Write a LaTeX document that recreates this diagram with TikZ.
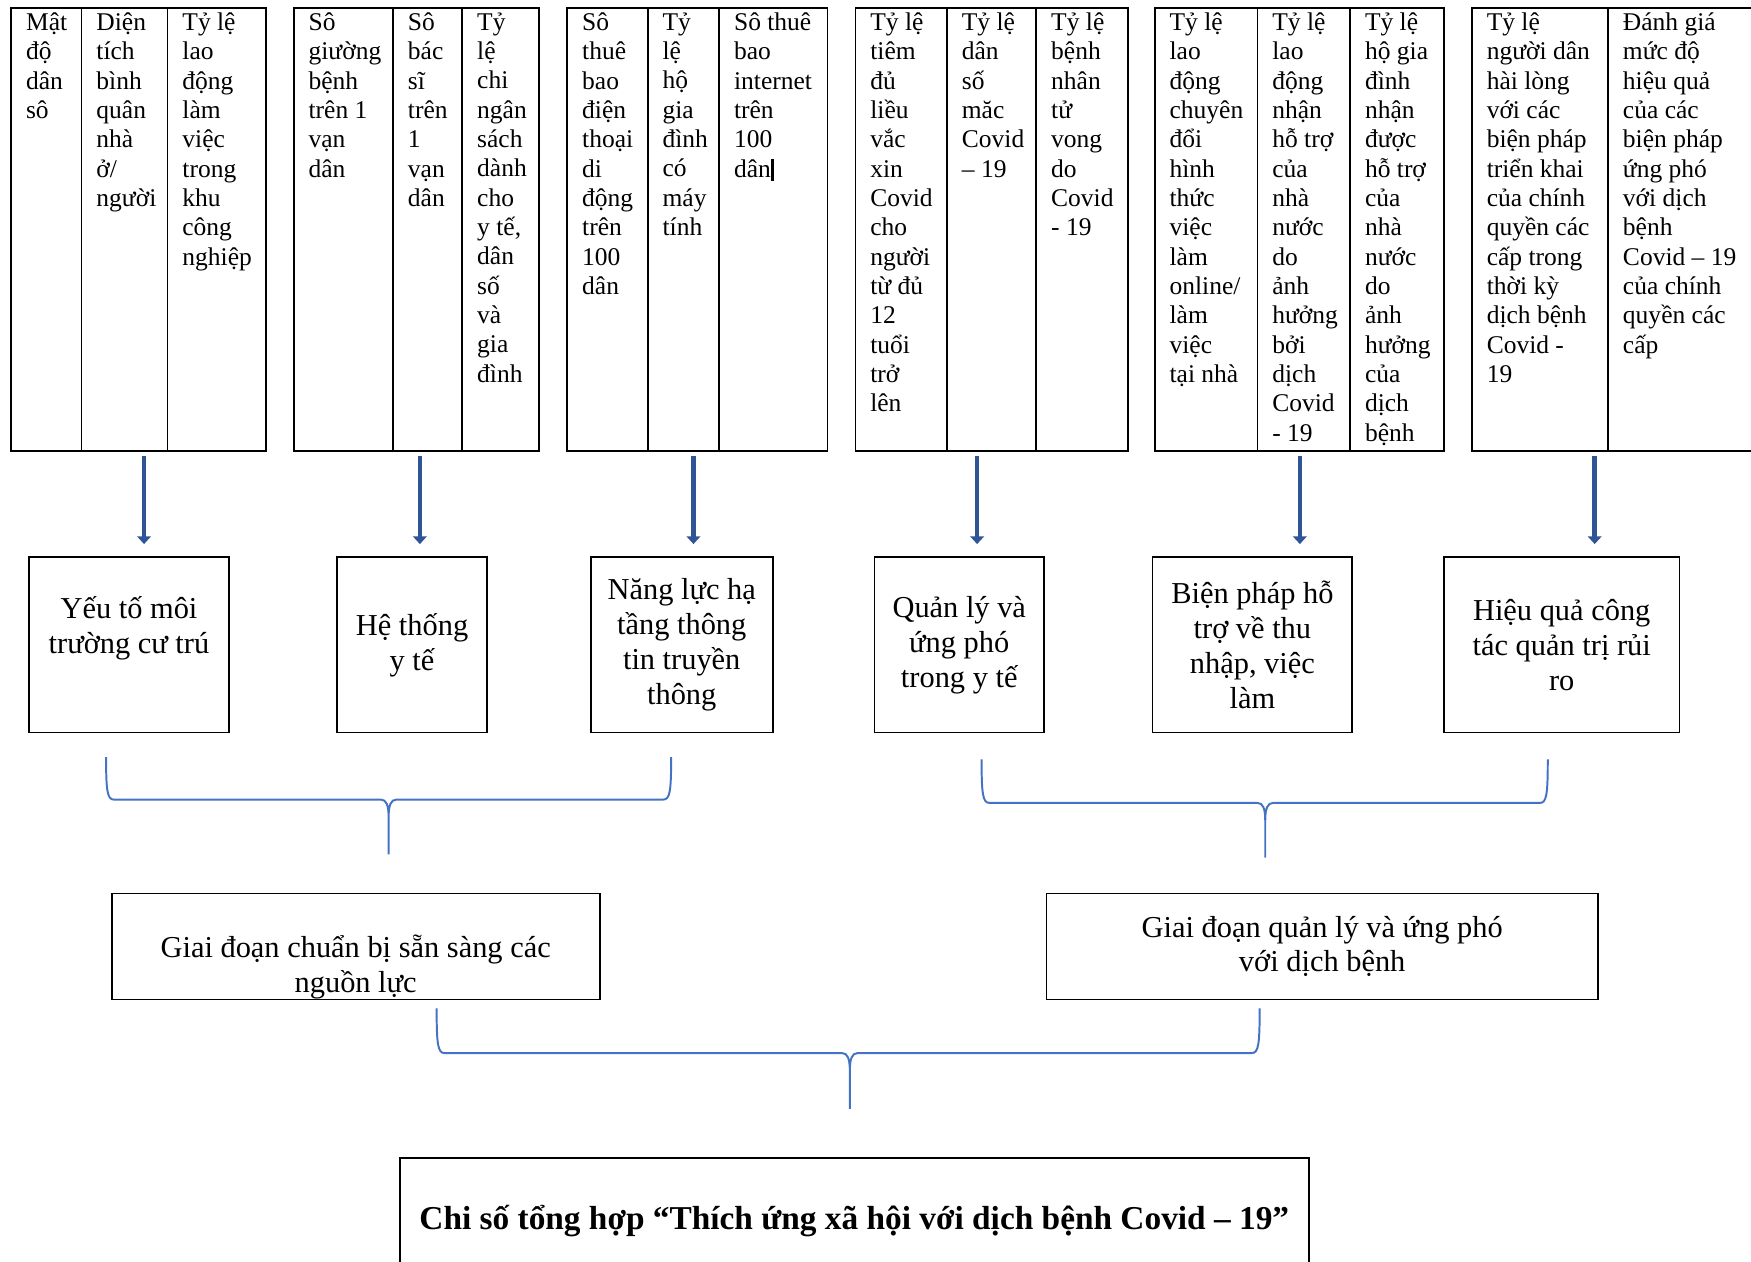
\documentclass[tikz,border=0pt]{standalone}
\usepackage{fontspec}
\setmainfont{Liberation Serif}
\usetikzlibrary{arrows.meta}
\definecolor{bracecol}{RGB}{68,114,196}
\definecolor{arrowcol}{RGB}{47,85,151}
\newcommand{\cellfont}{\fontsize{13}{14.95}\selectfont}
\newcommand{\boxfont}{\fontsize{15.5}{17.8}\selectfont}
\newcommand{\sumfont}{\fontsize{17}{19}\selectfont\bfseries}
\tikzset{
	cell/.style={anchor=north west, inner sep=0pt, align=left, font=\cellfont, execute at begin node=\strut},
	tblline/.style={line width=0.9pt},
	box/.style={draw, line width=0.9pt, inner sep=0pt, align=center, font=\boxfont},
	rowbox/.style={box, minimum height=3.14cm},
	boxtext/.style={inner sep=0pt, align=center, font=\boxfont},
	arr/.style={line width=2.4pt, draw=arrowcol, shorten >=0.22cm, -{Triangle[length=4pt,width=7pt]}},
	brace/.style={line width=1pt, draw=bracecol}
}
\def\ubrace[#1](#2:#3:#4)(#5:#6:#7){\draw[#1] (#2,#4) .. controls (#2,{#6-8}) and ({#2+1},#6) .. ({#2+7},#6) -- ({#5-7},#6) .. controls ({#5-2},#6) and (#5,{#6+5}) .. (#5,{#6+16}) -- (#5,#7) (#5,{#6+16}) .. controls (#5,{#6+5}) and ({#5+2},#6) .. ({#5+7},#6) -- ({#3-7},#6) .. controls ({#3-1},#6) and (#3,{#6-8}) .. (#3,#4);}

\begin{document}
\begin{tikzpicture}[x=0.02cm, y=-0.02cm]
	%%%%% START %%%%%
	\useasboundingbox (0,0) rectangle (1568,1130);
	\clip (0,0) rectangle (1568,1130);
	
	% indicator tables
	\draw[tblline] (10,7) rectangle (238,404);
	\draw[tblline] (73,7) -- (73,404);
	\draw[tblline] (150,7) -- (150,404);
	\node[cell] (t1a) at (23,11) {Mật\\độ\\dân\\sô};
	\node[cell] (t1b) at (86,11) {Diện\\tích\\bình\\quân\\nhà\\ở/\\người};
	\node[cell] (t1c) at (163,11) {Tỷ lệ\\lao\\động\\làm\\việc\\trong\\khu\\công\\nghiệp};
	\coordinate (a1) at (129,408);
	
	\draw[tblline] (263,7) rectangle (483,404);
	\draw[tblline] (352,7) -- (352,404);
	\draw[tblline] (414,7) -- (414,404);
	\node[cell] (t2a) at (276,11) {Sô\\giường\\bệnh\\trên 1\\vạn\\dân};
	\node[cell] (t2b) at (365,11) {Sô\\bác\\sĩ\\trên\\1\\vạn\\dân};
	\node[cell] (t2c) at (427,11) {Tỷ\\lệ\\chi\\ngân\\sách\\dành\\cho\\y tế,\\dân\\số\\và\\gia\\đình};
	\coordinate (a2) at (376,408);
	
	\draw[tblline] (508,7) rectangle (741,404);
	\draw[tblline] (580,7) -- (580,404);
	\draw[tblline] (644,7) -- (644,404);
	\node[cell] (t3a) at (521,11) {Sô\\thuê\\bao\\điện\\thoại\\di\\động\\trên\\100\\dân};
	\node[cell] (t3b) at (593,11) {Tỷ\\lệ\\hộ\\gia\\đình\\có\\máy\\tính};
	\node[cell] (t3c) at (657,11) {Sô thuê\\bao\\internet\\trên\\100\\dân\rule[-2pt]{1.6pt}{11pt}};
	\coordinate (a3) at (621,408);
	
	\draw[tblline] (766,7) rectangle (1010,404);
	\draw[tblline] (848,7) -- (848,404);
	\draw[tblline] (928,7) -- (928,404);
	\node[cell] (t4a) at (779,11) {Tỷ lệ\\tiêm\\đủ\\liều\\vắc\\xin\\Covid\\cho\\người\\từ đủ\\12\\tuổi\\trở\\lên};
	\node[cell] (t4b) at (861,11) {Tỷ lệ\\dân\\số\\măc\\Covid\\– 19};
	\node[cell] (t4c) at (941,11) {Tỷ lệ\\bệnh\\nhân\\tử\\vong\\do\\Covid\\- 19};
	\coordinate (a4) at (875,408);
	
	\draw[tblline] (1034,7) rectangle (1293,404);
	\draw[tblline] (1126,7) -- (1126,404);
	\draw[tblline] (1209,7) -- (1209,404);
	\node[cell] (t5a) at (1047,11) {Tỷ lệ\\lao\\động\\chuyên\\đổi\\hình\\thức\\việc\\làm\\online/\\làm\\việc\\tại nhà};
	\node[cell] (t5b) at (1139,11) {Tỷ lệ\\lao\\động\\nhận\\hỗ trợ\\của\\nhà\\nước\\do\\ảnh\\hưởng\\bởi\\dịch\\Covid\\- 19};
	\node[cell] (t5c) at (1222,11) {Tỷ lệ\\hộ gia\\đình\\nhận\\được\\hỗ trợ\\của\\nhà\\nước\\do\\ảnh\\hưởng\\của\\dịch\\bệnh};
	\coordinate (a5) at (1164,408);
	
	\draw[tblline] (1318,7) rectangle (1600,404);
	\draw[tblline] (1440,7) -- (1440,404);
	\node[cell] (t6a) at (1331,11) {Tỷ lệ\\người dân\\hài lòng\\với các\\biện pháp\\triển khai\\của chính\\quyền các\\cấp trong\\thời kỳ\\dịch bệnh\\Covid -\\19};
	\node[cell] (t6b) at (1453,11) {Đánh giá\\mức độ\\hiệu quả\\của các\\biện pháp\\ứng phó\\với dịch\\bệnh\\Covid – 19\\của chính\\quyền các\\cấp};
	\coordinate (a6) at (1428,408);
	
	% groups of indicators
	\node[rowbox, minimum width=3.58cm] (b1) at (115.5,577.5) {};
	\node[boxtext] (b1t) at (115.5,563) {Yếu tố môi\\trường cư trú};
	\node[rowbox, minimum width=2.68cm] (b2) at (369,577.5) {Hệ thống\\y tế};
	\node[rowbox, minimum width=3.26cm] (b3) at (610.5,577.5) {Năng lực hạ\\tầng thông\\tin truyền\\thông};
	\node[rowbox, minimum width=3.04cm] (b4) at (859,577.5) {Quản lý và\\ứng phó\\trong y tế};
	\node[rowbox, minimum width=3.58cm] (b5) at (1121.5,577.5) {Biện pháp hỗ\\trợ về thu\\nhập, việc\\làm};
	\node[rowbox, minimum width=4.22cm] (b6) at (1398.5,577.5) {Hiệu quả công\\tác quản trị rủi\\ro};
	
	\draw[arr] (a1) -- (a1 |- b1.north);
	\draw[arr] (a2) -- (a2 |- b2.north);
	\draw[arr] (a3) -- (a3 |- b3.north);
	\draw[arr] (a4) -- (a4 |- b4.north);
	\draw[arr] (a5) -- (a5 |- b5.north);
	\draw[arr] (a6) -- (a6 |- b6.north);
	
	\ubrace[brace](95:601:678)(348:716:765)
	\ubrace[brace](879:1386:680)(1133:719:768)
	
	% phases
	\node[box, minimum width=8.74cm, minimum height=1.9cm] (m1) at (318.5,847.5) {};
	\node[boxtext] (m1t) at (318.5,866) {Giai đoạn chuẩn bị sẵn sàng các\\nguồn lực};
	\node[box, minimum width=9.88cm, minimum height=1.9cm] (m2) at (1184,847.5) {Giai đoạn quản lý và ứng phó\\với dịch bệnh};
	
	\ubrace[brace](391:1128:903)(761:943:993)
	
	\node[box, minimum width=16.28cm, minimum height=2.26cm, font=\sumfont] (total) at (765,1093.5) {Chi số tổng hợp “Thích ứng xã hội với dịch bệnh Covid – 19”};
	%%%%% END %%%%%
\end{tikzpicture}
\end{document}
